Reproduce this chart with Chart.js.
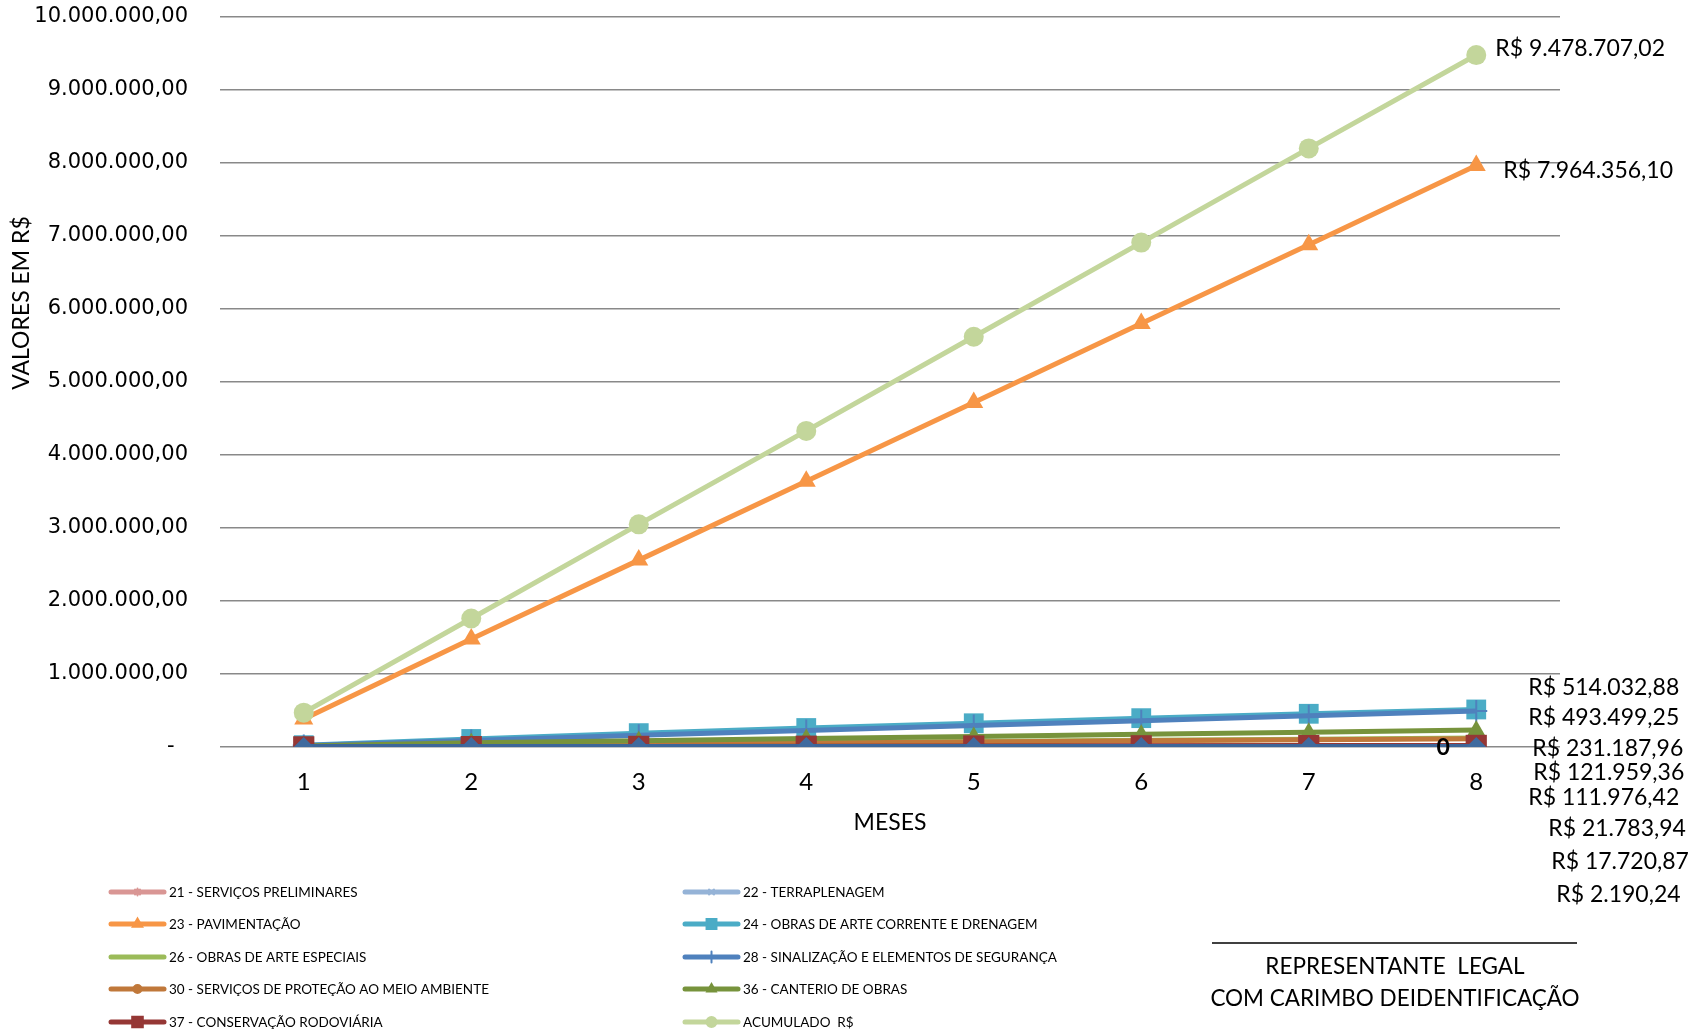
<!DOCTYPE html>
<html>
<head>
  <title>Cronograma Fisico-Financeiro</title>
  <script src="https://cdn.jsdelivr.net/npm/chart.js"></script>
  <style>
    body { margin: 0; background: #fff; }
    #wrap { width: 1695px; height: 1033px; }
  </style>
</head>
<body>
  <div id="wrap"><canvas id="chart" width="1695" height="1033"></canvas></div>

  <script>
    // months on the x axis
    const meses = ['1', '2', '3', '4', '5', '6', '7', '8'];

    // accumulated values per service (R$)
    const servicosPreliminares = [2000, 4400, 6600, 8900, 11100, 13300, 15500, 17720.87];
    const terraplenagem = [200, 550, 820, 1100, 1370, 1640, 1920, 2190.24];
    const pavimentacao = [385000, 1480000, 2560000, 3640000, 4720000, 5800000, 6880000, 7964356.10];
    const obrasArteCorrente = [25000, 110000, 190000, 260000, 325000, 395000, 455000, 514032.88];
    const obrasArteEspeciais = [10000, 30000, 46000, 61000, 76000, 91000, 107000, 121959.36];
    const sinalizacao = [20000, 90000, 160000, 225000, 295000, 360000, 428000, 493499.25];
    const protecaoAmbiente = [10000, 28000, 42000, 56000, 70000, 84000, 98000, 111976.42];
    const canteiro = [15000, 58000, 87000, 116000, 145000, 174000, 202000, 231187.96];
    const conservacao = [2000, 5400, 8200, 10900, 13600, 16300, 19100, 21783.94];
    const acumulado = [470000, 1760000, 3050000, 4330000, 5620000, 6910000, 8200000, 9478707.02];
    const zeroSerie = [0, 0, 0, 0, 0, 0, 0, 0];

    const nomes = [
      '21 - SERVIÇOS PRELIMINARES', '22 - TERRAPLENAGEM', '23 - PAVIMENTAÇÃO',
      '24 - OBRAS DE ARTE CORRENTE E DRENAGEM', '26 - OBRAS DE ARTE ESPECIAIS',
      '28 - SINALIZAÇÃO E ELEMENTOS DE SEGURANÇA', '30 - SERVIÇOS DE PROTEÇÃO AO MEIO AMBIENTE',
      '36 - CANTERIO DE OBRAS', '37 - CONSERVAÇÃO RODOVIÁRIA', 'ACUMULADO  R$'
    ];
    const valores = [servicosPreliminares, terraplenagem, pavimentacao, obrasArteCorrente,
      obrasArteEspeciais, sinalizacao, protecaoAmbiente, canteiro, conservacao, acumulado];

    // y axis ticks
    const yMax = 10000000;
    const yStep = 1000000;

    // look of each series
    const cores = ['#D99694', '#95B3D7', '#F79646', '#4BACC6', '#9BBB59', '#4F81BD', '#C0783A', '#77933C', '#953735', '#C3D69B'];
    const marcadores = ['star', 'crossRot', 'triangle', 'rect', false, 'cross', 'circle', 'triangle', 'rect', 'circle'];
    const raios = [7, 7, 11, 14, 0, 11, 8, 10, 15, 10];

    // where the end labels go, relative to the last point (left edge, centre)
    const rotuloDx = [75, 80, 27, 52, 57, 52, 52, 56, 72, 19];
    const rotuloDy = [116, 148, 5, -22, 34, 7, 59, 18, 83, -6];

    function formatBR(v) {
      const neg = v < 0;
      v = Math.abs(v);
      let [inteiro, dec] = v.toFixed(2).split('.');
      inteiro = inteiro.replace(/\B(?=(\d{3})+(?!\d))/g, '.');
      return (neg ? '-' : '') + inteiro + ',' + dec;
    }

    const datasets = valores.map((dados, i) => ({
      label: nomes[i],
      data: dados,
      borderColor: cores[i],
      backgroundColor: cores[i],
      borderWidth: 5,
      pointStyle: marcadores[i],
      pointRadius: raios[i],
      pointHoverRadius: raios[i],
      pointBorderWidth: marcadores[i] === 'cross' || marcadores[i] === 'crossRot' || marcadores[i] === 'star' ? 2 : 0,
      pointBorderColor: cores[i],
      tension: 0,
      order: -i
    }));
    datasets.push({
      label: '0',
      data: zeroSerie,
      borderColor: '#3D6699',
      backgroundColor: '#3F6A9E',
      borderWidth: 6,
      pointStyle: 'rectRot',
      pointRadius: 10,
      pointBorderWidth: 0,
      tension: 0,
      order: -20
    });

    const fonteTexto = 'Lato';

    // titles, end labels, legend and signature block
    const extras = {
      id: 'extras',
      afterDraw(chart) {
        const ctx = chart.ctx;
        ctx.save();
        ctx.fillStyle = '#000';

        // y title
        ctx.save();
        ctx.translate(22, 303);
        ctx.rotate(-Math.PI / 2);
        ctx.font = '23px ' + fonteTexto;
        ctx.textAlign = 'center';
        ctx.textBaseline = 'middle';
        ctx.fillText('VALORES EM R$', 0, 0);
        ctx.restore();

        // end-of-line value labels
        ctx.font = '23px ' + fonteTexto;
        ctx.textBaseline = 'middle';
        ctx.textAlign = 'left';
        valores.forEach((dados, i) => {
          const pts = chart.getDatasetMeta(i).data;
          const p = pts[pts.length - 1];
          ctx.fillText('R$ ' + formatBR(dados[dados.length - 1]), p.x + rotuloDx[i], p.y + rotuloDy[i]);
        });
        const zMeta = chart.getDatasetMeta(valores.length).data;
        const zp = zMeta[zMeta.length - 1];
        ctx.font = 'bold 23px ' + fonteTexto;
        ctx.textAlign = 'center';
        ctx.fillText(String(zeroSerie[zeroSerie.length - 1]), zp.x - 33, zp.y + 1);

        // legend, two columns
        const colX = [111, 685];
        const rowY = [892, 924, 957, 989, 1022];
        ctx.font = '13.5px ' + fonteTexto;
        ctx.textAlign = 'left';
        nomes.forEach((nome, i) => {
          const x = colX[i % 2];
          const y = rowY[Math.floor(i / 2)];
          ctx.strokeStyle = cores[i];
          ctx.lineWidth = 5;
          ctx.lineCap = 'round';
          ctx.beginPath();
          ctx.moveTo(x, y);
          ctx.lineTo(x + 53, y);
          ctx.stroke();
          if (marcadores[i]) {
            ctx.fillStyle = cores[i];
            ctx.strokeStyle = cores[i];
            ctx.lineWidth = 2;
            Chart.helpers.drawPoint(ctx, { pointStyle: marcadores[i], radius: raios[i] * 0.5, rotation: 0, borderWidth: 2 }, x + 26.5, y);
          }
          ctx.fillStyle = '#000';
          ctx.fillText(nome, x + 58, y + 1);
        });

        // signature block
        ctx.strokeStyle = '#000';
        ctx.lineWidth = 1.5;
        ctx.lineCap = 'butt';
        ctx.beginPath();
        ctx.moveTo(1212, 943);
        ctx.lineTo(1577, 943);
        ctx.stroke();
        ctx.font = '22.5px ' + fonteTexto;
        ctx.textAlign = 'center';
        ctx.fillText('REPRESENTANTE  LEGAL', 1395, 967);
        ctx.fillText('COM CARIMBO DEIDENTIFICAÇÃO', 1395, 999);

        ctx.restore();
      }
    };

    new Chart(document.getElementById('chart').getContext('2d'), {
      type: 'line',
      data: { labels: meses, datasets: datasets },
      options: {
        responsive: false,
        animation: false,
        layout: { padding: { left: 0, right: 135, top: 17, bottom: 0 } },
        plugins: {
          legend: { display: false },
          tooltip: { enabled: false }
        },
        scales: {
          x: {
            offset: true,
            grid: { display: false, drawTicks: false },
            border: { display: false },
            ticks: { color: '#000', font: { family: fonteTexto, size: 24 }, padding: 21 },
            title: { display: true, text: 'MESES', color: '#000', font: { family: fonteTexto, size: 23 }, padding: { top: 0, bottom: 197 } },
            afterFit(scale) { scale.height = 286; }
          },
          y: {
            min: 0,
            max: yMax,
            grid: { color: '#898989', lineWidth: 1.6, drawTicks: false },
            border: { display: false },
            ticks: {
              stepSize: yStep,
              color: '#000',
              padding: 32,
              font: { family: 'DejaVu Sans', size: 21 },
              callback: v => v === 0 ? '-  ' : formatBR(v)
            },
            afterFit(scale) {
              scale.width = 220;
              scale.paddingTop = 0;
              scale.paddingBottom = 0;
            }
          }
        }
      },
      plugins: [extras]
    });
  </script>
</body>
</html>
